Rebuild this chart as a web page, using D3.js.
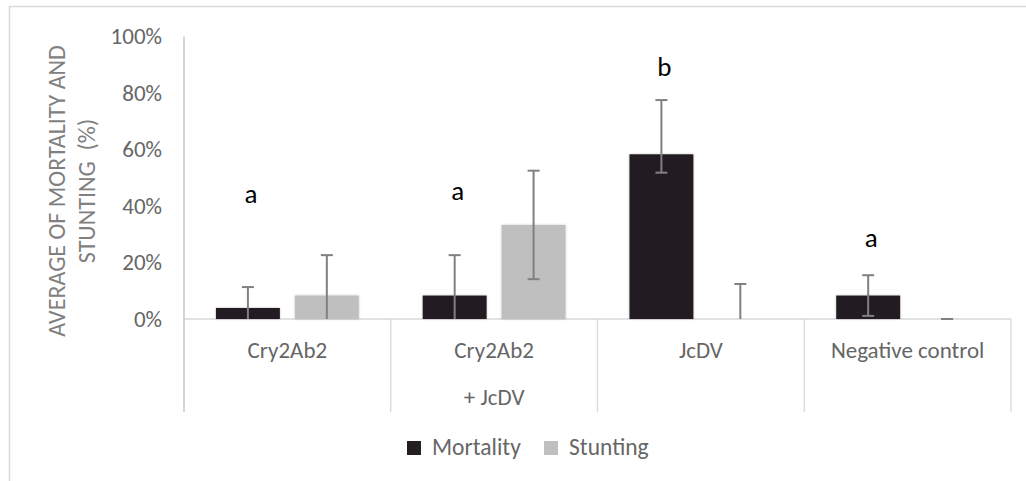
<!DOCTYPE html>
<html>
<head>
<meta charset="utf-8">
<script src="https://cdn.jsdelivr.net/npm/d3@7"></script>
<style>
  html, body { margin: 0; padding: 0; background: #fff; }
  svg { display: block; font-family: Carlito, Calibri, Lato, sans-serif; }
</style>
</head>
<body>
<svg id="chart" width="1026" height="481"></svg>
<script>
// ---- data ----
const categories = ["Cry2Ab2", "Cry2Ab2|+ JcDV", "JcDV", "Negative control"];
const seriesNames = ["Mortality", "Stunting"];
const mortality = [3.9, 8.3, 58.3, 8.3];
const stunting = [8.3, 33.3, 0, 0];
const mortalityErrPlus = [7.4, 14.3, 19.2, 7.2];
const mortalityErrMinus = [7.4, 14.3, 6.5, 7.2];
const stuntingErrPlus = [14.3, 19.2, 12.4, 0];
const stuntingErrMinus = [14.3, 19.2, 12.4, 0];
const letters = ["a", "a", "b", "a"];
const letterValues = [41, 42, 86, 25.5];
const yTicks = [0, 20, 40, 60, 80, 100];
const yTitle = ["AVERAGE OF MORTALITY AND", "STUNTING  (%)"];

const colors = { Mortality: "#231f20", Stunting: "#bfbfbf" };

// ---- layout ----
const svg = d3.select("#chart");
const plot = { left: 184, right: 1011, top: 36.5, bottom: 319 };

const x = d3.scaleBand().domain(categories).range([plot.left, plot.right]).padding(0);
const xs = d3.scaleBand().domain(seriesNames).range([0, x.bandwidth()])
  .paddingInner(0.19).paddingOuter(0.405);
const y = d3.scaleLinear().domain([0, 100]).range([plot.bottom, plot.top]);

const defs = svg.append("defs");
const f = defs.append("filter").attr("id", "shadow").attr("x", "-10%").attr("y", "-10%")
  .attr("width", "120%").attr("height", "120%");
f.append("feDropShadow").attr("dx", 0).attr("dy", 0).attr("stdDeviation", 1)
  .attr("flood-color", "#000").attr("flood-opacity", 0.25);

// outer border (top & left only visible)
svg.append("path").attr("d", "M9.5,481 L9.5,6.5 L1026,6.5")
  .attr("fill", "none").attr("stroke", "#d9d9d9").attr("stroke-width", 1.5);

// category separators
const bounds = categories.map(c => x(c)).concat([plot.right]);
svg.append("g").selectAll("line").data(bounds.slice(1)).join("line")
  .attr("x1", d => d).attr("x2", d => d)
  .attr("y1", plot.bottom).attr("y2", 412)
  .attr("stroke", "#d9d9d9").attr("stroke-width", 1.3);

// baseline
svg.append("line").attr("x1", plot.left).attr("x2", plot.right)
  .attr("y1", y(0)).attr("y2", y(0)).attr("stroke", "#d9d9d9").attr("stroke-width", 1.3);
// y axis line
svg.append("line").attr("x1", plot.left).attr("x2", plot.left)
  .attr("y1", plot.top).attr("y2", 412).attr("stroke", "#bfbfbf").attr("stroke-width", 1.3);

// y axis ticks
const yAxis = d3.axisLeft(y).tickValues(yTicks).tickSize(0).tickPadding(22)
  .tickFormat(d => d + "%");
const gy = svg.append("g").attr("transform", `translate(${plot.left},0)`).call(yAxis);
gy.select(".domain").remove();
gy.selectAll("text").attr("font-family", "Carlito, Calibri, Lato, sans-serif")
  .attr("font-size", 23).attr("fill", "#666");

// y title
const yt = svg.append("text").attr("transform", "translate(65,191) rotate(-90)")
  .attr("text-anchor", "middle").attr("font-size", 24).attr("fill", "#808080")
  .style("white-space", "pre");
yTitle.forEach((t, i) => {
  yt.append("tspan").attr("x", 0).attr("y", i * 30).text(t);
});

// bars
const data = categories.map((c, i) => [
  { cat: c, s: "Mortality", v: mortality[i], ep: mortalityErrPlus[i], em: mortalityErrMinus[i] },
  { cat: c, s: "Stunting", v: stunting[i], ep: stuntingErrPlus[i], em: stuntingErrMinus[i] }
]).flat();

svg.append("g").selectAll("rect").data(data.filter(d => d.v > 0)).join("rect")
  .attr("x", d => x(d.cat) + xs(d.s))
  .attr("width", xs.bandwidth())
  .attr("y", d => y(d.v))
  .attr("height", d => y(0) - y(d.v))
  .attr("fill", d => colors[d.s])
  .attr("filter", "url(#shadow)");

// error bars
const eg = svg.append("g").attr("stroke", "#808080").attr("stroke-width", 2);
data.forEach(d => {
  const cx = x(d.cat) + xs(d.s) + xs.bandwidth() / 2;
  const hi = d.v + d.ep, lo = d.v - d.em;
  const loC = Math.max(0, lo);
  eg.append("line").attr("x1", cx).attr("x2", cx).attr("y1", y(hi)).attr("y2", y(loC));
  eg.append("line").attr("x1", cx - 6).attr("x2", cx + 6).attr("y1", y(hi)).attr("y2", y(hi));
  if (lo >= 0) {
    eg.append("line").attr("x1", cx - 6).attr("x2", cx + 6).attr("y1", y(lo)).attr("y2", y(lo));
  }
});

// significance letters
svg.append("g").selectAll("text").data(categories).join("text")
  .attr("x", (c) => x(c) + xs("Mortality") + xs.bandwidth() / 2 + 3)
  .attr("y", (c, i) => y(letterValues[i]))
  .attr("text-anchor", "middle").attr("font-size", 27).attr("fill", "#000")
  .text((c, i) => letters[i]);

// category labels
const cl = svg.append("g").selectAll("text").data(categories).join("text")
  .attr("text-anchor", "middle").attr("font-size", 23).attr("fill", "#666");
cl.each(function (c) {
  const parts = c.split("|");
  const t = d3.select(this);
  parts.forEach((p, i) => {
    t.append("tspan").attr("x", x(c) + x.bandwidth() / 2).attr("y", 358 + i * 47).text(p);
  });
});

// legend
const legendX = [407, 544];
const lg = svg.append("g");
seriesNames.forEach((s, i) => {
  lg.append("rect").attr("x", legendX[i]).attr("y", 441).attr("width", 14).attr("height", 14)
    .attr("fill", colors[s]);
  lg.append("text").attr("x", legendX[i] + 25).attr("y", 455)
    .attr("font-size", 23.5).attr("fill", "#666").text(s);
});
</script>
</body>
</html>
